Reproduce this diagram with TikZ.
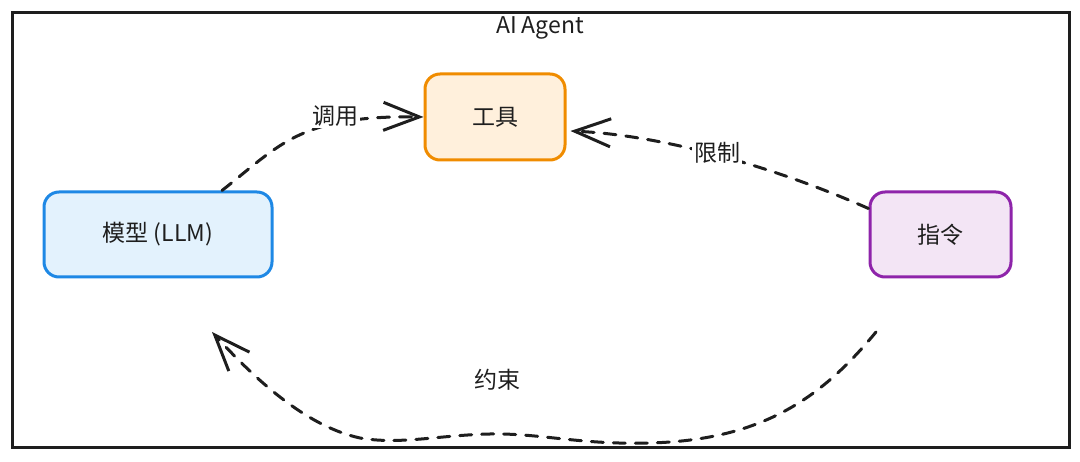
\documentclass[tikz,border=0pt]{standalone}
\usepackage{fontspec}
\setmainfont{Noto Sans CJK SC}
\usetikzlibrary{arrows.meta}
\definecolor{ink}{HTML}{1E1E1E}
\definecolor{toolline}{HTML}{F08C00}
\definecolor{toolfill}{HTML}{FFF0DC}
\definecolor{modline}{HTML}{1E88E5}
\definecolor{modfill}{HTML}{E3F2FD}
\definecolor{insline}{HTML}{8E24AA}
\definecolor{insfill}{HTML}{F3E5F5}
\tikzset{
  txt/.style={font=\fontsize{23}{27}\selectfont, text=ink},
  box/.style={rectangle, rounded corners=15pt, line width=3pt, txt, inner sep=0pt},
  link/.style={draw=ink, line width=3pt, line cap=round, dash pattern=on 12pt off 10pt,
    -{Straight Barb[length=36pt,width=28pt,line width=3pt]}},
  lbl/.style={fill=white, inner sep=2pt, txt}
}
\begin{document}
\begin{tikzpicture}[x=1pt,y=-1pt]
\useasboundingbox (0,0) rectangle (1080,462);
\node[draw=ink, line width=3pt, minimum width=1057pt, minimum height=435pt, inner sep=0pt] (frame) at (540.5,230.5) {};
\node[txt] (title) at (540,28) {AI Agent};
\node[box, draw=toolline, fill=toolfill, minimum width=140pt, minimum height=86pt] (tool) at (495,117) {工具};
\node[box, draw=modline, fill=modfill, minimum width=228pt, minimum height=85pt] (model) at (158,234.5) {模型 (LLM)};
\node[box, draw=insline, fill=insfill, minimum width=141pt, minimum height=85pt] (instr) at (940.5,234.5) {指令};
\draw[link] ([xshift=64pt]model.north) .. controls (280,145) and (300,115) .. (tool.west);
\node[lbl] (l1) at (335,116) {调用};
\draw[link] ([yshift=26pt]instr.west) .. controls (770,165) and (660,135) .. ([xshift=4pt,yshift=-14pt]tool.east);
\node[lbl] (l2) at (717,153) {限制};
\coordinate (cs) at (876,332);
\coordinate (ce) at (212,332);
\draw[link] (cs) .. controls (820,400) and (760,440) .. (650,443)
  .. controls (580,445) and (540,433) .. (490,434)
  .. controls (440,435) and (400,445) .. (360,438)
  .. controls (300,425) and (245,368) .. (ce);
\node[txt] (l3) at (497,380) {约束};
\end{tikzpicture}
\end{document}
